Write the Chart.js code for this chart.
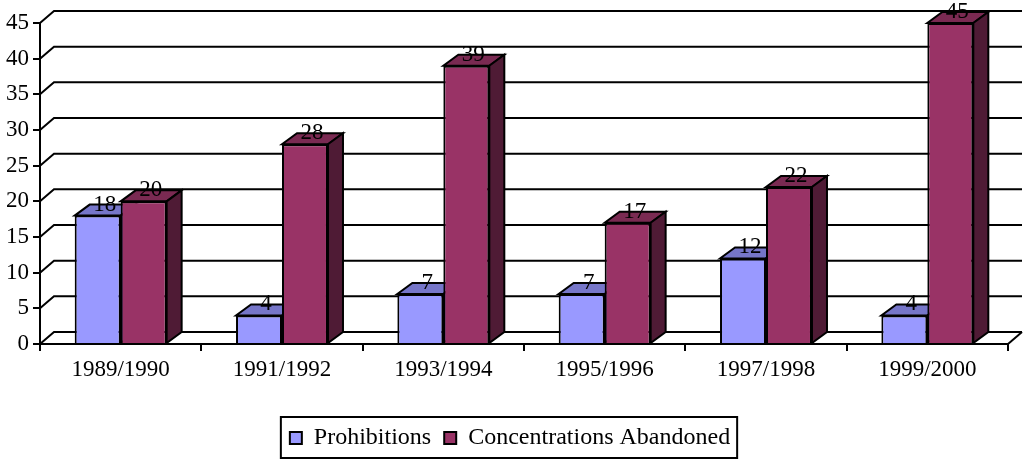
<!DOCTYPE html>
<html>
<head>
<meta charset="utf-8">
<script src="https://cdn.jsdelivr.net/npm/chart.js@4/dist/chart.umd.min.js"></script>
<style>
  html, body { margin: 0; padding: 0; background: #fff; }
  canvas { display: block; }
</style>
</head>
<body>
<canvas id="chart" width="1024" height="459"></canvas>
<script>
// Two-year periods and the counts for each series
const categories = ['1989/1990', '1991/1992', '1993/1994', '1995/1996', '1997/1998', '1999/2000'];
const prohibitions = [18, 4, 7, 7, 12, 4];
const abandoned = [20, 28, 39, 17, 22, 45];
const seriesNames = ['Prohibitions', 'Concentrations Abandoned'];
const yMin = 0, yMax = 45, yStep = 5;

const FONT = "'Liberation Serif', 'Times New Roman', serif";
const FONT_SIZE = 23;
const LEGEND_FONT_SIZE = 24;
const LINE = 2;
const WALL = { dx: 14, dy: -12 };   // depth of the back wall / floor
const BAR = { dx: 15, dy: -11 };    // depth of each column
const faces = [
  { front: '#9999FF', top: '#7676C9', side: '#5B5BA0' },
  { front: '#993366', top: '#7A2A52', side: '#4F1B35' }
];

Chart.defaults.font.family = FONT;
Chart.defaults.font.size = FONT_SIZE;
Chart.defaults.color = '#000';

// Pseudo-3D: back wall grid, floor edge, column tops and sides, value labels, legend frame
const depthPlugin = {
  id: 'depth3d',
  afterLayout(chart) {
    // nudge the legend block a little to the right of the plot's centre
    if (chart.legend) {
      chart.legend.left += 6;
      chart.legend.right += 6;
    }
  },
  beforeDatasetsDraw(chart) {
    const ctx = chart.ctx;
    const { left, right, bottom } = chart.chartArea;
    const yScale = chart.scales.y;
    ctx.save();
    ctx.strokeStyle = '#000';
    ctx.lineWidth = LINE;
    ctx.lineJoin = 'miter';
    yScale.ticks.forEach(t => {
      const py = yScale.getPixelForValue(t.value);
      ctx.beginPath();
      ctx.moveTo(left, py);
      ctx.lineTo(left + WALL.dx, py + WALL.dy);
      ctx.lineTo(right + WALL.dx, py + WALL.dy);
      ctx.stroke();
    });
    ctx.beginPath();
    ctx.moveTo(right, bottom);
    ctx.lineTo(right + WALL.dx, bottom + WALL.dy);
    ctx.stroke();

    chart.data.datasets.forEach((ds, di) => {
      const meta = chart.getDatasetMeta(di);
      const f = faces[di];
      meta.data.forEach(bar => {
        const { x, y, base, width } = bar.getProps(['x', 'y', 'base', 'width'], true);
        const l = x - width / 2, r = x + width / 2;
        // top face
        ctx.beginPath();
        ctx.moveTo(l, y);
        ctx.lineTo(r, y);
        ctx.lineTo(r + BAR.dx, y + BAR.dy);
        ctx.lineTo(l + BAR.dx, y + BAR.dy);
        ctx.closePath();
        ctx.fillStyle = f.top;
        ctx.fill();
        ctx.stroke();
        // side face
        ctx.beginPath();
        ctx.moveTo(r, y);
        ctx.lineTo(r + BAR.dx, y + BAR.dy);
        ctx.lineTo(r + BAR.dx, base + BAR.dy);
        ctx.lineTo(r, base);
        ctx.closePath();
        ctx.fillStyle = f.side;
        ctx.fill();
        ctx.stroke();
      });
    });
    ctx.restore();
  },
  afterDatasetsDraw(chart) {
    const ctx = chart.ctx;
    ctx.save();
    ctx.font = FONT_SIZE + 'px ' + FONT;
    ctx.fillStyle = '#000';
    ctx.textAlign = 'center';
    ctx.textBaseline = 'alphabetic';
    chart.data.datasets.forEach((ds, di) => {
      const meta = chart.getDatasetMeta(di);
      meta.data.forEach((bar, i) => {
        const { x, y } = bar.getProps(['x', 'y'], true);
        ctx.fillText(String(ds.data[i]), x + 7, y - 5);
      });
    });
    ctx.restore();
  },
  afterDraw(chart) {
    const lg = chart.legend;
    if (!lg || !lg.legendHitBoxes || !lg.legendHitBoxes.length) return;
    const hb = lg.legendHitBoxes;
    const first = hb[0], last = hb[hb.length - 1];
    const ctx = chart.ctx;
    ctx.save();
    ctx.strokeStyle = '#000';
    ctx.lineWidth = LINE;
    const x0 = first.left - 9;
    const x1 = last.left + last.width + 7;
    const y0 = lg.top + 4;
    const y1 = Math.min(lg.bottom - 2, chart.height - 1);
    ctx.strokeRect(x0, y0, x1 - x0, y1 - y0);
    ctx.restore();
  }
};

new Chart(document.getElementById('chart'), {
  type: 'bar',
  data: {
    labels: categories,
    datasets: [
      {
        label: seriesNames[0],
        data: prohibitions,
        backgroundColor: faces[0].front,
        borderColor: '#000',
        borderWidth: LINE
      },
      {
        label: seriesNames[1],
        data: abandoned,
        backgroundColor: faces[1].front,
        borderColor: '#000',
        borderWidth: LINE
      }
    ]
  },
  options: {
    responsive: false,
    animation: false,
    layout: { padding: { top: 23, right: 16, bottom: -1, left: 0 } },
    datasets: { bar: { categoryPercentage: 0.57, barPercentage: 1 } },
    scales: {
      x: {
        afterFit(scale) { scale.height = 69; },
        grid: { display: true, drawOnChartArea: false, drawTicks: true, tickLength: 7, color: '#000', lineWidth: LINE, offset: true },
        border: { display: true, color: '#000', width: LINE },
        ticks: { padding: 5, maxRotation: 0, autoSkip: false, font: { size: FONT_SIZE } }
      },
      y: {
        min: yMin,
        max: yMax,
        afterFit(scale) { scale.width = 40; },
        grid: { display: true, drawOnChartArea: false, drawTicks: true, tickLength: 7, color: '#000', lineWidth: LINE },
        border: { display: true, color: '#000', width: LINE },
        ticks: { stepSize: yStep, padding: 4, font: { size: FONT_SIZE } }
      }
    },
    plugins: {
      legend: {
        position: 'bottom',
        labels: {
          boxWidth: 12,
          boxHeight: 12,
          padding: 13,
          color: '#000',
          font: { size: LEGEND_FONT_SIZE }
        }
      },
      tooltip: { enabled: false }
    }
  },
  plugins: [depthPlugin]
});
</script>
</body>
</html>
